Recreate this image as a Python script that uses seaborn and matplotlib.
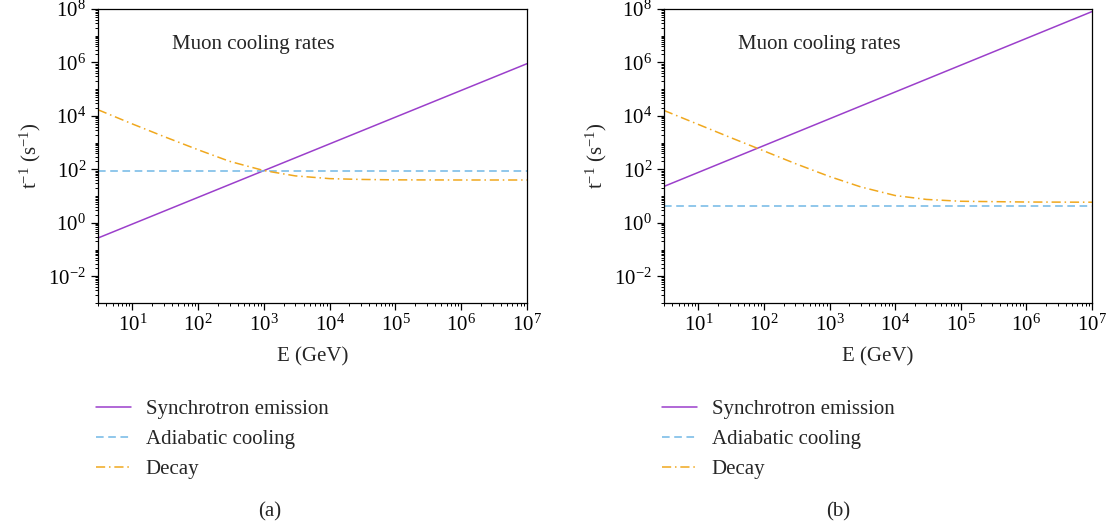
import matplotlib
matplotlib.use("Agg")
import matplotlib.pyplot as plt
import matplotlib.ticker as mticker
import numpy as np
import pandas as pd
import seaborn as sns

# energies (GeV)
energy = [3, 10, 30, 100, 300, 1e3, 3e3, 1e4, 3e4, 1e5, 1e6, 1e7]

# panel (a)
sync_a_E = [3, 1e7]
sync_a = [0.27, 9.0e5]
adiab_a = [89, 89]
decay_a = [1.7e4, 5.0e3, 1.7e3, 540, 200, 90, 57, 45, 42, 40.5, 40, 40]

# panel (b)
sync_b_E = [3, 1e7]
sync_b = [23, 8.0e7]
adiab_b = [4.1, 4.1]
decay_b = [1.6e4, 4.8e3, 1.6e3, 490, 165, 54, 22, 10.5, 7.5, 6.4, 6.0, 5.9]

labels = ["Synchrotron emission", "Adiabatic cooling", "Decay"]
panel_tags = ["(a)", "(b)"]

c_sync = "#9B3FCB"
c_adiab = "#72B8E6"
c_decay = "#F0A81E"

sns.set_style("ticks")
plt.rcParams["font.family"] = ["Liberation Serif", "DejaVu Serif"]
plt.rcParams["mathtext.fontset"] = "custom"
plt.rcParams["mathtext.rm"] = "Liberation Serif"
plt.rcParams["mathtext.it"] = "Liberation Serif:italic"
plt.rcParams["font.size"] = 15

fig = plt.figure(figsize=(11.19, 5.31), dpi=100)
W, H = 1119, 531
ax_a = fig.add_axes([98 / W, 1 - 303 / H, 429 / W, 294 / H])
ax_b = fig.add_axes([664 / W, 1 - 303 / H, 428 / W, 294 / H])

panels = [
    (ax_a, sync_a_E, sync_a, adiab_a, decay_a),
    (ax_b, sync_b_E, sync_b, adiab_b, decay_b),
]

for ax, sE, s, ad, dc in panels:
    sns.lineplot(x=sE, y=s, ax=ax, color=c_sync, linewidth=1.1, label=labels[0])
    sns.lineplot(x=sE, y=ad, ax=ax, color=c_adiab, linewidth=1.1,
                 linestyle=(0, (5, 3)), label=labels[1])
    sns.lineplot(x=energy, y=dc, ax=ax, color=c_decay, linewidth=1.1,
                 linestyle=(0, (6, 2.5, 1, 2.5)), label=labels[2])
    ax.set_xscale("log")
    ax.set_yscale("log")
    ax.set_xlim(3, 1e7)
    ax.set_ylim(1e-3, 1e8)
    ax.yaxis.set_major_locator(mticker.FixedLocator([1e-2, 1, 1e2, 1e4, 1e6, 1e8]))
    ax.yaxis.set_minor_locator(mticker.LogLocator(base=10, subs=np.arange(1, 10), numticks=30))
    ax.yaxis.set_minor_formatter(mticker.NullFormatter())
    ax.xaxis.set_major_locator(mticker.FixedLocator([1e1, 1e2, 1e3, 1e4, 1e5, 1e6, 1e7]))
    ax.xaxis.set_minor_locator(mticker.LogLocator(base=10, subs=np.arange(2, 10), numticks=30))
    ax.xaxis.set_minor_formatter(mticker.NullFormatter())
    for sp in ax.spines.values():
        sp.set_visible(True)
        sp.set_color("black")
        sp.set_linewidth(0.9)
    ax.tick_params(which="major", length=5, width=0.9, labelsize=15, colors="black")
    ax.tick_params(which="minor", length=2.5, width=0.7, colors="black")
    ax.set_xlabel("E (GeV)", fontsize=15, labelpad=8)
    ax.set_ylabel("t$^{-1}$ (s$^{-1}$)", fontsize=15, labelpad=4)
    ax.text(0.172, 0.878, "Muon cooling rates", transform=ax.transAxes,
            fontsize=15, va="center", ha="left")
    ax.legend(loc="center left", bbox_to_anchor=(-0.005, -0.463), frameon=False,
              handlelength=1.7, handletextpad=0.7, labelspacing=0.5, fontsize=15,
              borderaxespad=0, borderpad=0)

fig.text(270 / W, 1 - 512 / H, panel_tags[0], ha="center", va="center", fontsize=15)
fig.text(838 / W, 1 - 512 / H, panel_tags[1], ha="center", va="center", fontsize=15)

fig.savefig("out.png", dpi=100)
